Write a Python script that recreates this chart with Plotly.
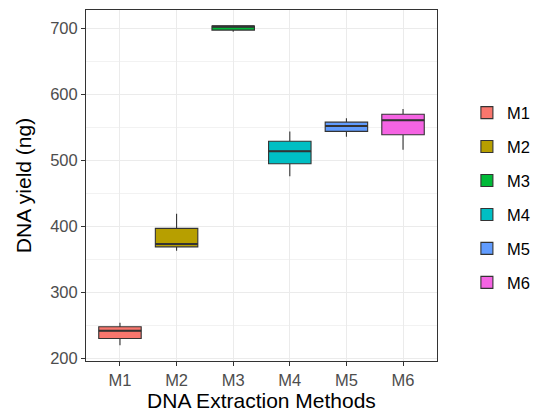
import plotly.graph_objects as go

methods = ["M1", "M2", "M3", "M4", "M5", "M6"]
lower = [220, 363, 695, 476, 536, 516]
q1 = [230, 369, 697.5, 495, 544, 539]
median = [242, 373.5, 703.5, 514, 552, 561]
q3 = [248, 397, 703.5, 529, 558, 570]
upper = [254, 419, 704, 544, 564, 578]
colors = ["#F8766D", "#B79F00", "#00BA38", "#00BFC4", "#619CFF", "#F564E3"]

BW = 0.75
fig = go.Figure()
for i, m in enumerate(methods):
    fig.add_trace(go.Box(
        x=[i], q1=[q1[i]], median=[median[i]], q3=[q3[i]],
        lowerfence=[lower[i]], upperfence=[upper[i]],
        name=m, legendgroup=m, width=BW,
        fillcolor=colors[i], line=dict(color="#333333", width=1.1),
        boxpoints=False, whiskerwidth=0, hoverinfo="skip",
    ))
for i, m in enumerate(methods):
    fig.add_trace(go.Scatter(
        x=[i - BW / 2, i + BW / 2], y=[median[i], median[i]],
        mode="lines", line=dict(color="#333333", width=2),
        showlegend=False, hoverinfo="skip", legendgroup=m,
    ))

axis_common = dict(
    showline=True, linecolor="#333333", linewidth=1, mirror=True,
    ticks="outside", ticklen=4, tickcolor="#333333", tickwidth=1,
    tickfont=dict(size=16.5, color="#4D4D4D"),
    gridcolor="#EBEBEB", gridwidth=1.2, zeroline=False, automargin=False,
)
fig.update_layout(
    width=533, height=414,
    margin=dict(l=86, r=96, t=10, b=53),
    plot_bgcolor="white", paper_bgcolor="white",
    font=dict(family="Liberation Sans, Arial, sans-serif", color="black"),
    boxmode="overlay",
    showlegend=True,
    legend=dict(xref="container", yref="container", x=0.876, xanchor="left",
                y=0.522, yanchor="middle",
                font=dict(size=16.5, color="black"), tracegroupgap=9.5,
                bgcolor="rgba(0,0,0,0)"),
    xaxis=dict(axis_common, range=[-0.6, 5.6], tickvals=list(range(6)), ticktext=methods,
               title=dict(text="DNA Extraction Methods", font=dict(size=21), standoff=4)),
    yaxis=dict(axis_common, range=[196, 728], tickvals=[200, 300, 400, 500, 600, 700],
               minor=dict(tickvals=[250, 350, 450, 550, 650], showgrid=True,
                          gridcolor="#F2F2F2", gridwidth=0.6, ticks=""),
               title=dict(text="DNA yield (ng)", font=dict(size=21), standoff=12)),
)
fig.write_html("out.html")
